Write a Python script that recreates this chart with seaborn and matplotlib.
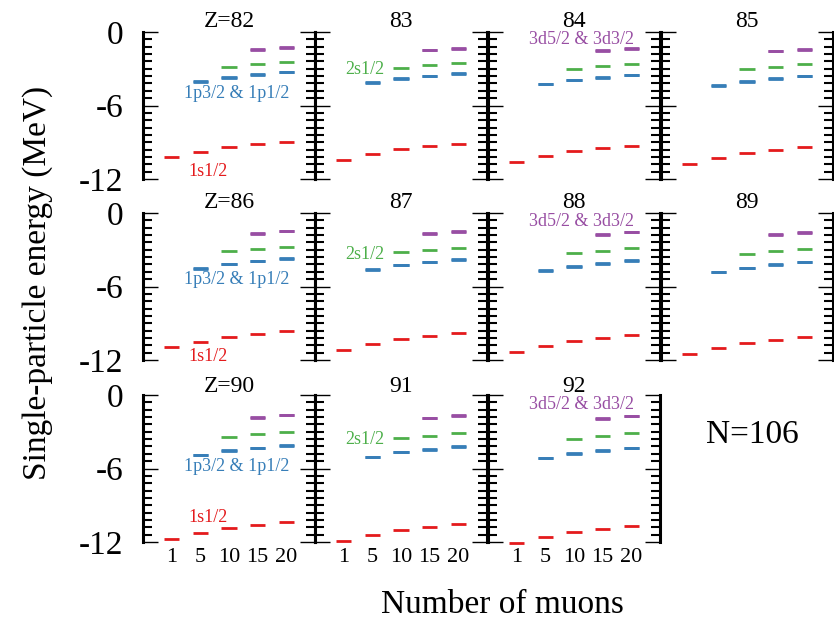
import numpy as np
import pandas as pd
import seaborn as sns
import matplotlib
matplotlib.use("Agg")
from matplotlib import pyplot as plt
from matplotlib.ticker import MultipleLocator

nan = np.nan

# proton numbers (one panel each) and muon counts on the x axis
Z = [82, 83, 84, 85, 86, 87, 88, 89, 90, 91, 92]
muons = [1, 5, 10, 15, 20]

# single-particle energies (MeV), rows follow Z, columns follow muons
e_1s = [
    [-10.20, -9.80, -9.36, -9.14, -8.95],
    [-10.45, -9.96, -9.52, -9.33, -9.12],
    [-10.58, -10.12, -9.71, -9.50, -9.28],
    [-10.75, -10.31, -9.90, -9.66, -9.41],
    [-10.96, -10.55, -10.09, -9.87, -9.65],
    [-11.18, -10.69, -10.25, -10.04, -9.82],
    [-11.34, -10.85, -10.44, -10.17, -9.98],
    [-11.48, -11.04, -10.64, -10.36, -10.12],
    [-11.76, -11.29, -10.82, -10.58, -10.36],
    [-11.95, -11.46, -11.02, -10.74, -10.52],
    [-12.12, -11.59, -11.18, -10.91, -10.69],
]
e_1p32 = [
    [nan, -4.03, -3.70, -3.46, -3.24],
    [nan, -4.11, -3.78, -3.59, -3.35],
    [nan, -4.24, -3.89, -3.67, -3.48],
    [nan, -4.33, -4.00, -3.78, -3.56],
    [nan, -4.50, -4.15, -3.90, -3.68],
    [nan, -4.58, -4.23, -3.98, -3.76],
    [nan, -4.69, -4.34, -4.09, -3.87],
    [nan, -4.80, -4.45, -4.20, -3.98],
    [nan, -4.89, -4.53, -4.31, -4.09],
    [nan, -5.05, -4.64, -4.42, -4.20],
    [nan, -5.14, -4.75, -4.51, -4.29],
]
e_1p12 = [
    [nan, -4.07, -3.75, -3.50, -3.28],
    [nan, -4.15, -3.83, -3.63, -3.39],
    [nan, -4.28, -3.94, -3.72, -3.52],
    [nan, -4.37, -4.05, -3.82, -3.60],
    [nan, -4.54, -4.20, -3.94, -3.72],
    [nan, -4.62, -4.28, -4.03, -3.80],
    [nan, -4.73, -4.39, -4.13, -3.91],
    [nan, -4.84, -4.50, -4.25, -4.02],
    [nan, -4.93, -4.58, -4.35, -4.13],
    [nan, -5.09, -4.69, -4.47, -4.24],
    [nan, -5.18, -4.80, -4.55, -4.33],
]
e_2s = [
    [nan, nan, -2.88, -2.61, -2.42],
    [nan, nan, -2.91, -2.69, -2.50],
    [nan, nan, -2.99, -2.78, -2.59],
    [nan, nan, -3.05, -2.83, -2.64],
    [nan, nan, -3.14, -2.95, -2.75],
    [nan, nan, -3.22, -3.03, -2.84],
    [nan, nan, -3.30, -3.08, -2.89],
    [nan, nan, -3.35, -3.14, -2.95],
    [nan, nan, -3.43, -3.21, -2.99],
    [nan, nan, -3.54, -3.32, -3.08],
    [nan, nan, -3.60, -3.35, -3.13],
]
e_3d52 = [
    [nan, nan, nan, -1.41, -1.25],
    [nan, nan, nan, -1.47, -1.31],
    [nan, nan, nan, -1.50, -1.33],
    [nan, nan, nan, -1.55, -1.39],
    [nan, nan, nan, -1.64, -1.45],
    [nan, nan, nan, -1.66, -1.50],
    [nan, nan, nan, -1.72, -1.55],
    [nan, nan, nan, -1.75, -1.58],
    [nan, nan, nan, -1.80, -1.62],
    [nan, nan, nan, -1.87, -1.65],
    [nan, nan, nan, -1.90, -1.70],
]
e_3d32 = [
    [nan, nan, nan, -1.45, -1.29],
    [nan, nan, nan, -1.51, -1.35],
    [nan, nan, nan, -1.54, -1.37],
    [nan, nan, nan, -1.59, -1.43],
    [nan, nan, nan, -1.68, -1.49],
    [nan, nan, nan, -1.70, -1.54],
    [nan, nan, nan, -1.76, -1.59],
    [nan, nan, nan, -1.79, -1.62],
    [nan, nan, nan, -1.84, -1.66],
    [nan, nan, nan, -1.91, -1.69],
    [nan, nan, nan, -1.94, -1.74],
]

levels = [("1s1/2", e_1s), ("1p3/2", e_1p32), ("1p1/2", e_1p12),
          ("2s1/2", e_2s), ("3d5/2", e_3d52), ("3d3/2", e_3d32)]
palette = {"1s1/2": "#e41a1c", "1p3/2": "#377eb8", "1p1/2": "#377eb8",
           "2s1/2": "#4daf4a", "3d5/2": "#984ea3", "3d3/2": "#984ea3"}

# long table for seaborn
rows = []
for i, z in enumerate(Z):
    for name, vals in levels:
        for j in range(len(muons)):
            if not np.isnan(vals[i][j]):
                rows.append({"Z": z, "pos": j, "level": name, "E": vals[i][j]})
df = pd.DataFrame(rows)

sns.set_style("white")
plt.rcParams["font.family"] = ["Liberation Serif", "DejaVu Serif"]
plt.rcParams["axes.unicode_minus"] = False
plt.rcParams["text.color"] = "black"

fig = plt.figure(figsize=(8.34, 6.28), dpi=100)
W, H = 834, 628
col_x = [143, 315, 488, 661]
col_w = 172
row_top = [32, 213, 395]
row_h = 147

# label positions per row (data coords)
lab_1p = [-5.03, -5.45, -5.85]
lab_1s = [-11.37, -11.73, -10.03]
lab_2s = [-3.07, -3.41, -3.63]
lab_3d = [-0.62, -0.66, -0.78]

for k in range(12):
    r, c = divmod(k, 4)
    ax = fig.add_axes([col_x[c] / W, 1 - (row_top[r] + row_h) / H, col_w / W, row_h / H])
    if k == 11:
        ax.axis("off")
        ax.text(0.53, 0.73, "N=106", fontsize=24, ha="center", va="center",
                transform=ax.transAxes)
        continue
    z = Z[k]
    sns.scatterplot(data=df[df.Z == z], x="pos", y="E", hue="level",
                    palette=palette, marker="_", s=118, linewidth=2,
                    legend=False, ax=ax, clip_on=False)
    ax.set_xlim(-1, 5)
    ax.set_ylim(-12, 0)
    ax.spines[["top", "bottom"]].set_visible(False)
    for s in ("left", "right"):
        ax.spines[s].set_visible(True)
        ax.spines[s].set_linewidth(2.2)
        ax.spines[s].set_color("black")
    ax.yaxis.set_major_locator(MultipleLocator(6))
    ax.yaxis.set_minor_locator(MultipleLocator(0.6))
    ax.tick_params(axis="y", which="major", direction="in", left=True, right=True,
                   length=11, width=1, color="black", labelsize=24, pad=14,
                   labelleft=(c == 0), labelcolor="black")
    ax.tick_params(axis="y", which="minor", direction="in", left=True, right=True,
                   length=6.5, width=1.5, color="black")
    ax.set_xticks(range(len(muons)))
    ax.set_xticklabels([str(m) for m in muons])
    ax.tick_params(axis="x", length=0, labelsize=16, pad=4,
                   labelbottom=(r == 2), labelcolor="black")
    ax.set_xlabel("")
    ax.set_ylabel("")
    ax.set_title(("Z=%d" if c == 0 else "%d") % z, fontsize=17, pad=2, color="black")

    if c == 0:
        ax.text(2.27, lab_1p[r], "1p3/2 & 1p1/2", color="#377eb8", fontsize=13,
                ha="center", va="center")
        ax.text(1.27, lab_1s[r], "1s1/2", color="#e41a1c", fontsize=13,
                ha="center", va="center")
    elif c == 1:
        ax.text(0.74, lab_2s[r], "2s1/2", color="#4daf4a", fontsize=13,
                ha="center", va="center")
    elif c == 2:
        ax.text(2.27, lab_3d[r], "3d5/2 & 3d3/2", color="#984ea3", fontsize=13,
                ha="center", va="center")

fig.text(0.045, 0.55, "Single-particle energy (MeV)", rotation=90, fontsize=24,
         ha="center", va="center", color="black")
fig.text(0.603, 0.037, "Number of muons", fontsize=24, ha="center", va="center",
         color="black")

fig.savefig("out.png", dpi=100)
